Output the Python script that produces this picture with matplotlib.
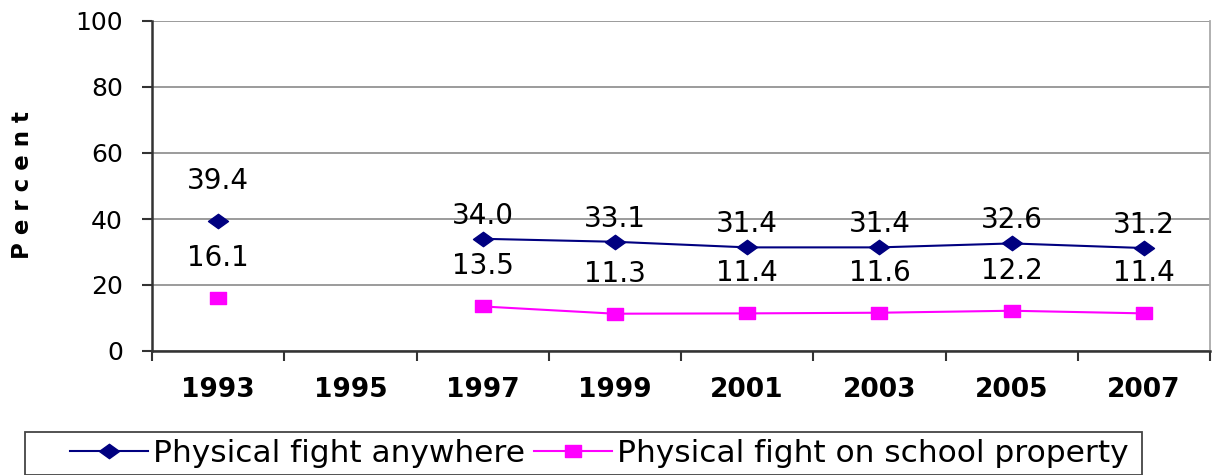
import numpy as np
import matplotlib
matplotlib.use("Agg")
import matplotlib.pyplot as plt
from matplotlib.patches import Rectangle
from matplotlib.path import Path

years = ["1993", "1995", "1997", "1999", "2001", "2003", "2005", "2007"]
fight_anywhere = [39.4, np.nan, 34.0, 33.1, 31.4, 31.4, 32.6, 31.2]
fight_school = [16.1, np.nan, 13.5, 11.3, 11.4, 11.6, 12.2, 11.4]
y_ticks = [0, 20, 40, 60, 80, 100]

W, H = 1213, 475
plt.rcParams["font.family"] = ["DejaVu Sans"]
fig = plt.figure(figsize=(W / 100, H / 100), dpi=100)
PX = 0.72  # points per pixel at 100 dpi

left, right, top, bottom = 152, 1210, 21, 351
ax = fig.add_axes([left / W, 1 - bottom / H, (right - left) / W, (bottom - top) / H])

# wide diamond and wide square markers
wide_diamond = Path([(-1, 0), (0, 0.72), (1, 0), (0, -0.72), (-1, 0)],
                    [Path.MOVETO, Path.LINETO, Path.LINETO, Path.LINETO, Path.CLOSEPOLY])
wide_square = Path([(-1, -0.74), (1, -0.74), (1, 0.74), (-1, 0.74), (-1, -0.74)],
                   [Path.MOVETO, Path.LINETO, Path.LINETO, Path.LINETO, Path.CLOSEPOLY])

x = np.arange(len(years))
ax.plot(x, fight_anywhere, color="#000080", marker=wide_diamond, markersize=20 * PX,
        lw=1.5, label="Physical fight anywhere", zorder=3)
ax.plot(x, fight_school, color="#FF00FF", marker=wide_square, markersize=16 * PX,
        lw=1.5, label="Physical fight on school property", zorder=3)

# value labels above each marker
for i, (a, s) in enumerate(zip(fight_anywhere, fight_school)):
    off_a = 40 if i == 0 else 23
    off_s = 40
    if not np.isnan(a):
        ax.annotate(f"{a:.1f}", (x[i], a), xytext=(0, off_a * PX), textcoords="offset points",
                    ha="center", va="center", fontsize=20)
    if not np.isnan(s):
        ax.annotate(f"{s:.1f}", (x[i], s), xytext=(0, off_s * PX), textcoords="offset points",
                    ha="center", va="center", fontsize=20)

ax.set_xlim(-0.5, len(years) - 0.5)
ax.set_ylim(0, 100)
ax.set_yticks(y_ticks)
ax.set_yticklabels([str(t) for t in y_ticks], fontsize=18)
ax.set_xticks(x)
ax.set_xticklabels(years, fontsize=19, fontweight="bold")
ax.set_xticks(np.arange(-0.5, len(years), 1.0), minor=True)
ax.tick_params(axis="x", which="major", length=0, pad=26 * PX)
ax.tick_params(axis="x", which="minor", length=10 * PX, width=1.5, color="#333333")
ax.tick_params(axis="y", length=10 * PX, width=1.5, color="#333333", pad=19 * PX)

ax.yaxis.grid(True, color="#808080", lw=1.1)
ax.set_axisbelow(True)
for s in ["left", "bottom"]:
    ax.spines[s].set_color("#333333")
    ax.spines[s].set_linewidth(1.8)
ax.spines["top"].set_visible(False)
ax.spines["right"].set_color("#aaaaaa")
ax.spines["right"].set_linewidth(1.3)

fig.text(23 / W, 1 - 185 / H, "P e r c e n t", rotation=90, ha="center", va="center",
         fontsize=16.5, fontweight="bold")

# legend box drawn separately so the entries can sit with a wide left margin
fig.patches.append(Rectangle((25 / W, 0), (1142 - 25) / W, 1 - 432 / H,
                             transform=fig.transFigure, fill=False,
                             edgecolor="#444444", lw=1.3, clip_on=False))
leg = fig.legend(loc="center left", bbox_to_anchor=(70 / W, 1 - 453 / H),
                 ncol=2, frameon=False, prop={"size": 22.5}, handlelength=2.5,
                 columnspacing=0.3, handletextpad=0.15, borderpad=0, borderaxespad=0)

fig.savefig("out.png", dpi=100)
